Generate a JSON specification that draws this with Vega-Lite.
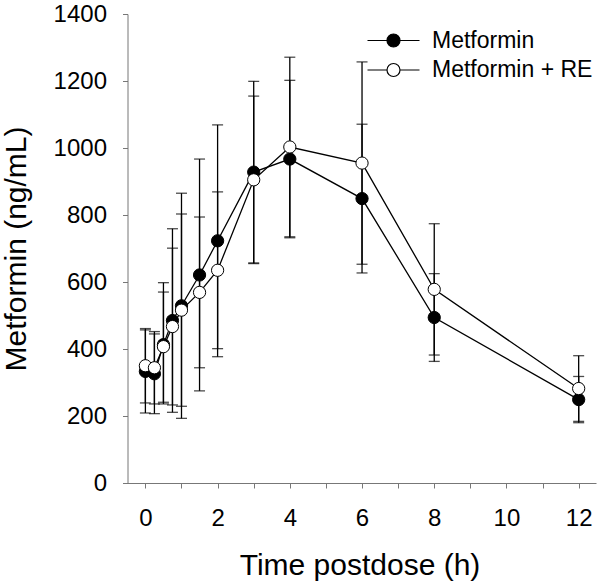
{
  "$schema": "https://vega.github.io/schema/vega-lite/v6.json",
  "width": 473,
  "height": 469,
  "autosize": "none",
  "padding": {"left": 123, "top": 14, "right": 4, "bottom": 104},
  "background": "white",
  "config": {
    "view": {"stroke": null},
    "font": "Liberation Sans",
    "axis": {
      "grid": false,
      "domainColor": "#777777",
      "tickColor": "#777777",
      "domainWidth": 1,
      "tickWidth": 1,
      "tickSize": 5,
      "labelColor": "black",
      "titleColor": "black",
      "labelFontSize": 24,
      "titleFontSize": 30,
      "titleFontWeight": "normal",
      "labelFont": "Liberation Sans",
      "titleFont": "Liberation Sans"
    }
  },
  "data": {
    "values": [
      {"t": 0, "series": "Metformin", "mean": 333, "lo": 209, "hi": 457},
      {"t": 0.25, "series": "Metformin", "mean": 326, "lo": 207, "hi": 445},
      {"t": 0.5, "series": "Metformin", "mean": 413, "lo": 236, "hi": 598},
      {"t": 0.75, "series": "Metformin", "mean": 485, "lo": 211, "hi": 759},
      {"t": 1, "series": "Metformin", "mean": 529, "lo": 193, "hi": 865},
      {"t": 1.5, "series": "Metformin", "mean": 621, "lo": 275, "hi": 967},
      {"t": 2, "series": "Metformin", "mean": 723, "lo": 377, "hi": 1069},
      {"t": 3, "series": "Metformin", "mean": 928, "lo": 657, "hi": 1199},
      {"t": 4, "series": "Metformin", "mean": 967, "lo": 732, "hi": 1202},
      {"t": 6, "series": "Metformin", "mean": 849, "lo": 627, "hi": 1071},
      {"t": 8, "series": "Metformin", "mean": 494, "lo": 363, "hi": 625},
      {"t": 12, "series": "Metformin", "mean": 249, "lo": 180, "hi": 318},
      {"t": 0, "series": "Metformin + RE", "mean": 350, "lo": 239, "hi": 461},
      {"t": 0.25, "series": "Metformin + RE", "mean": 344, "lo": 236, "hi": 452},
      {"t": 0.5, "series": "Metformin + RE", "mean": 407, "lo": 241, "hi": 570},
      {"t": 0.75, "series": "Metformin + RE", "mean": 467, "lo": 233, "hi": 701},
      {"t": 1, "series": "Metformin + RE", "mean": 516, "lo": 229, "hi": 803},
      {"t": 1.5, "series": "Metformin + RE", "mean": 569, "lo": 344, "hi": 794},
      {"t": 2, "series": "Metformin + RE", "mean": 635, "lo": 401, "hi": 869},
      {"t": 3, "series": "Metformin + RE", "mean": 905, "lo": 655, "hi": 1155},
      {"t": 4, "series": "Metformin + RE", "mean": 1003, "lo": 735, "hi": 1271},
      {"t": 6, "series": "Metformin + RE", "mean": 955, "lo": 653, "hi": 1257},
      {"t": 8, "series": "Metformin + RE", "mean": 578, "lo": 382, "hi": 774},
      {"t": 12, "series": "Metformin + RE", "mean": 282, "lo": 184, "hi": 380}
    ]
  },
  "encoding": {
    "x": {
      "field": "t",
      "type": "quantitative",
      "scale": {"domain": [-0.62, 12.48], "nice": false, "zero": false},
      "axis": {
        "title": "Time postdose (h)",
        "values": [0, 1, 2, 3, 4, 5, 6, 7, 8, 9, 10, 11, 12],
        "labelExpr": "datum.value % 2 == 0 ? datum.label : ''",
        "labelFlush": false,
        "labelPadding": 18,
        "titlePadding": 20
      }
    }
  },
  "layer": [
    {
      "mark": {"type": "errorbar", "ticks": {"size": 11}, "thickness": 1.3, "color": "black"},
      "encoding": {
        "y": {
          "field": "lo",
          "type": "quantitative",
          "scale": {"domain": [0, 1400], "nice": false},
          "axis": {
            "title": "Metformin (ng/mL)",
            "values": [0, 100, 200, 300, 400, 500, 600, 700, 800, 900, 1000, 1100, 1200, 1300, 1400],
            "labelExpr": "datum.value % 200 == 0 ? datum.label : ''",
            "format": "d",
            "offset": -4.5,
            "labelPadding": 16,
            "titlePadding": 22
          }
        },
        "y2": {"field": "hi"},
        "detail": {"field": "series"}
      }
    },
    {
      "mark": {"type": "line", "color": "black", "strokeWidth": 1.3},
      "encoding": {
        "y": {"field": "mean", "type": "quantitative"},
        "detail": {"field": "series"}
      }
    },
    {
      "mark": {"type": "point", "shape": "circle", "size": 150, "stroke": "black", "strokeWidth": 1, "opacity": 1, "fillOpacity": 1},
      "encoding": {
        "y": {"field": "mean", "type": "quantitative"},
        "fill": {
          "field": "series",
          "type": "nominal",
          "scale": {"domain": ["Metformin", "Metformin + RE"], "range": ["black", "white"]},
          "legend": {
            "title": null,
            "orient": "none",
            "legendX": 233,
            "legendY": 15,
            "symbolType": "M-4,0H-1M1,0H4M-1,0A1,1 0 1,1 1,0A1,1 0 1,1 -1,0",
            "symbolSize": 169,
            "symbolStrokeColor": "black",
            "symbolStrokeWidth": 1.2,
            "symbolOffset": 26,
            "labelOffset": 27,
            "labelFontSize": 23,
            "labelLimit": 0,
            "labelColor": "black",
            "labelFont": "Liberation Sans",
            "rowPadding": 5.5,
            "padding": 0
          }
        }
      }
    }
  ]
}
